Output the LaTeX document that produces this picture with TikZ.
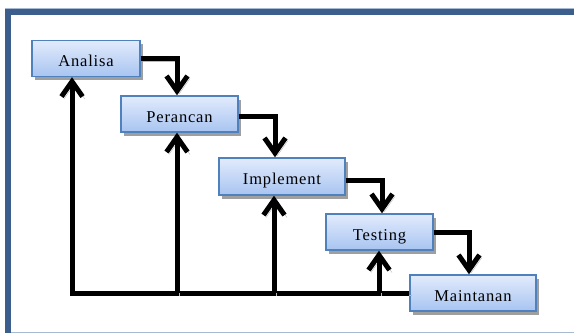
\documentclass[tikz,border=0pt]{standalone}
\usepackage{fontspec}
\setmainfont[LetterSpace=5]{Liberation Serif}
\usetikzlibrary{arrows.meta,shadows}
\definecolor{framec}{HTML}{3B5E8C}
\definecolor{framelight}{HTML}{A6BAD4}
\definecolor{boxtop}{HTML}{E2EBFC}
\definecolor{boxbot}{HTML}{A8C4F1}
\definecolor{boxedge}{HTML}{4F81BD}
\tikzset{
  stagebox/.style={draw=boxedge, line width=1.4pt, top color=boxtop, bottom color=boxbot,
    minimum height=36pt, inner sep=0pt, text height=16pt, text depth=0pt,
    font=\fontsize{16.5}{18}\selectfont,
    drop shadow={shadow xshift=2.5pt, shadow yshift=-3.5pt, fill=gray!75, opacity=1}},
  conn/.style={line width=5pt, line join=miter, line cap=butt,
    -{Straight Barb[length=15pt,width=21pt]},
    preaction={draw=gray!55, transform canvas={shift={(2.5pt,-2.5pt)}}}}
}
\begin{document}
\begin{tikzpicture}[x=1pt,y=-1pt]
\useasboundingbox (0,0) rectangle (574,333);
% frame
\fill[framelight] (5,7.5) rectangle (574,9);
\fill[framec] (5,9) rectangle (574,14.5);
\fill[framec] (5,9) rectangle (10.5,333);
\fill[framelight] (10.5,331.5) rectangle (574,333);
% boxes
\node[stagebox, minimum width=108pt] (an) at (86,58.5) {Analisa};
\node[stagebox, minimum width=117pt] (pe) at (179.5,114) {Perancan};
\node[stagebox, minimum width=126pt, minimum height=37pt] (im) at (282,176.5) {Implement};
\node[stagebox, minimum width=107pt] (te) at (379.5,232) {Testing};
\node[stagebox, minimum width=126pt] (ma) at (473,293) {Maintanan};
% forward connectors
\draw[conn] (an.east) -| ([xshift=-2.5pt]pe.north);
\draw[conn] ([yshift=-2pt]pe.east) -| ([xshift=-7pt]im.north);
\draw[conn] ([yshift=-3.5pt]im.east) -| ([xshift=2.5pt]te.north);
\draw[conn] (te.east) -| ([xshift=-4pt]ma.north);
% feedback
\draw[conn] (ma.west) -| ([xshift=-14pt]an.south);
\draw[conn] ([xshift=-2.5pt]pe.south |- ma.west) -- ([xshift=-2.5pt]pe.south);
\draw[conn] ([xshift=-8pt]im.south |- ma.west) -- ([xshift=-8pt]im.south);
\draw[conn] ([xshift=-0.5pt]te.south |- ma.west) -- ([xshift=-0.5pt]te.south);
\end{tikzpicture}
\end{document}
